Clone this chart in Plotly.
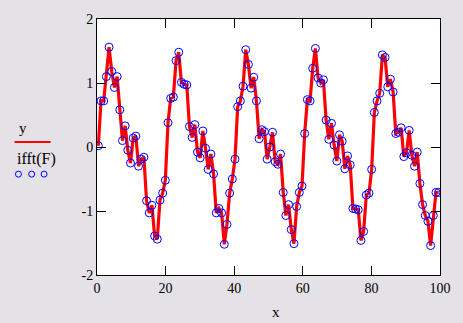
import plotly.graph_objects as go

# sample grid: 128 samples across 0..100 (sample centres)
n_samples = 128
x_step = 100 / 128

# values (red line y and blue circles ifft(F) coincide)
y_vals = [
    0.02, 0.72, 0.72, 1.10, 1.56, 1.18, 0.93, 1.10, 0.58, 0.10,
    0.33, -0.05, -0.25, 0.14, 0.17, -0.30, -0.19, -0.16, -0.84, -1.03,
    -0.91, -1.39, -1.44, -0.83, -0.72, -0.52, 0.38, 0.76, 0.78, 1.35,
    1.48, 1.01, 0.98, 0.97, 0.32, 0.15, 0.35, -0.08, -0.17, 0.25,
    -0.02, -0.35, -0.11, -0.42, -1.03, -0.96, -1.03, -1.52, -1.21, -0.72,
    -0.50, -0.19, 0.63, 0.72, 0.95, 1.52, 1.29, 0.92, 1.09, 0.72,
    0.13, 0.27, 0.24, -0.19, 0.00, 0.23, -0.23, -0.27, -0.11, -0.71,
    -1.07, -0.90, -1.29, -1.51, -0.93, -0.71, -0.61, 0.21, 0.74, 0.72,
    1.23, 1.54, 1.08, 1.00, 1.05, 0.42, 0.12, 0.37, 0.03, -0.22,
    0.19, 0.09, -0.34, -0.14, -0.28, -0.96, -0.97, -0.98, -1.46, -1.32,
    -0.75, -0.72, -0.35, 0.54, 0.72, 0.84, 1.44, 1.40, 0.94, 1.06,
    0.86, 0.21, 0.23, 0.30, -0.15, -0.09, 0.26, -0.13, -0.30, -0.08,
    -0.57, -0.90, -1.07, -1.16, -1.54, -1.07, -0.71, -0.71,
]
ifft_vals = list(y_vals)

x_vals = [(i + 0.5) * x_step for i in range(n_samples)]

x_ticks = [0, 20, 40, 60, 80, 100]
y_ticks = [-2, -1, 0, 1, 2]

FONT = "Liberation Serif, Times New Roman, serif"
BG = "#e4e2e7"

fig = go.Figure()
fig.add_trace(go.Scatter(
    x=x_vals, y=y_vals, mode="lines",
    line=dict(color="#ff0000", width=3.2), showlegend=False,
))
fig.add_trace(go.Scatter(
    x=x_vals, y=ifft_vals, mode="markers",
    marker=dict(symbol="circle-open", size=8, color="#0000ff",
                line=dict(width=1, color="#0000ff")),
    showlegend=False,
))

axis_common = dict(
    showline=True, linecolor="black", linewidth=1, mirror="ticks",
    ticks="inside", ticklen=9, tickcolor="black", tickwidth=1,
    showgrid=False, zeroline=False,
    tickfont=dict(family=FONT, size=14, color="black"),
)

fig.update_layout(
    width=463, height=323,
    margin=dict(l=97, r=18, t=14, b=48),
    paper_bgcolor=BG, plot_bgcolor="white",
    xaxis=dict(range=[0, 100], tickvals=x_ticks,
               ticktext=[str(t) for t in x_ticks], **axis_common),
    yaxis=dict(range=[-2, 2], tickvals=y_ticks,
               ticktext=[str(t) for t in y_ticks], **axis_common),
    font=dict(family=FONT, size=14, color="black"),
)

# axis title and Mathcad-style legend on the left
fig.add_annotation(text="x", xref="paper", yref="paper", x=0.522, y=-0.145,
                   showarrow=False, font=dict(family=FONT, size=15, color="black"),
                   xanchor="center", yanchor="middle")
fig.add_annotation(text="y", xref="paper", yref="paper", x=-0.216, y=0.575,
                   showarrow=False, font=dict(family=FONT, size=15, color="black"),
                   xanchor="center", yanchor="middle")
fig.add_annotation(text="ifft(F)", xref="paper", yref="paper", x=-0.177, y=0.452,
                   showarrow=False, font=dict(family=FONT, size=16, color="black"),
                   xanchor="center", yanchor="middle")
fig.add_shape(type="line", xref="paper", yref="paper",
              x0=-0.2405, x1=-0.1351, y0=0.52, y1=0.52,
              line=dict(color="#ff0000", width=2))
for cx in [-0.229, -0.1905, -0.1543]:
    fig.add_shape(type="circle", xref="paper", yref="paper",
                  xsizemode="pixel", ysizemode="pixel",
                  xanchor=cx, yanchor=0.394,
                  x0=-3, x1=3, y0=-3, y1=3,
                  line=dict(color="#0000ff", width=1))

fig.write_html(
    "out.html",
    config={"displayModeBar": False},
    post_script="document.body.style.margin='0';document.body.style.padding='0';"
                "document.body.style.overflow='hidden';",
)
